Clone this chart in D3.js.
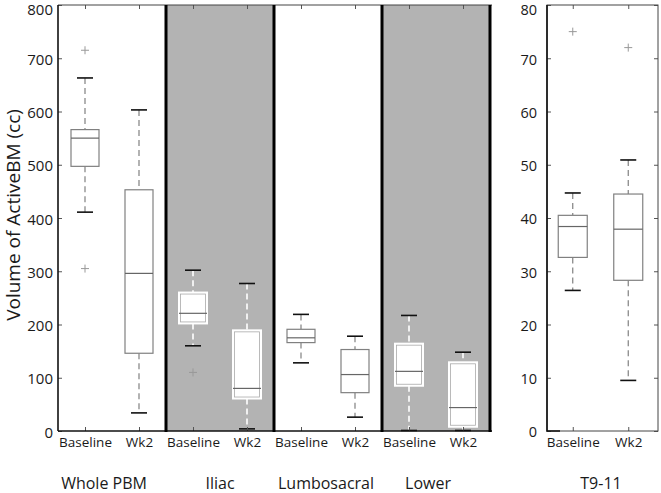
<!DOCTYPE html>
<html>
<head>
    <script src="https://d3js.org/d3.v7.min.js"></script>
    <style>
        body { margin: 0; background: #fff; }
        text { font-family: "Open Sans", "Noto Sans", sans-serif; fill: #1a1a1a; }
        .tick line { stroke: #555; }
        .domain { display: none; }
    </style>
</head>
<body>
<script>
// regions and time points
const groups = ["Whole PBM", "Iliac", "Lumbosacral", "Lower"];
const timepoints = ["Baseline", "Wk2"];
const yTicks = [0, 100, 200, 300, 400, 500, 600, 700, 800];

// box stats for the 8 boxes, in order WPBM base, WPBM wk2, Iliac base, ...
const whiskLo = [411, 34, 160, 4, 128, 26, 1, 1];
const q1 =      [497, 146, 202, 61, 166, 72, 85, 8];
const median =  [550, 296, 221, 80, 175, 106, 112, 44];
const q3 =      [566, 453, 260, 189, 191, 153, 164, 129];
const whiskHi = [663, 603, 302, 277, 219, 178, 217, 148];
const outliers = [[715, 305], [], [110], [], [], [], [], []];

// T9-11 panel
const t9Group = "T9-11";
const t9Ticks = [0, 10, 20, 30, 40, 50, 60, 70, 80];
const t9WhiskLo = [26.4, 9.5];
const t9Q1 = [32.6, 28.3];
const t9Median = [38.4, 37.9];
const t9Q3 = [40.5, 44.5];
const t9WhiskHi = [44.7, 50.9];
const t9Outliers = [[75], [72]];

const svg = d3.select("body").append("svg")
    .attr("width", 661)
    .attr("height", 493);

const yTop = 5, yBottom = 431;
const x = d3.scaleLinear().domain([0.5, 8.5]).range([58, 490]);
const y = d3.scaleLinear().domain([0, 800]).range([yBottom, yTop]);
const x2 = d3.scaleLinear().domain([0.5, 2.5]).range([545, 656]);
const y2 = d3.scaleLinear().domain([0, 80]).range([yBottom, yTop]);

// shaded panels
groups.forEach(function(g, i) {
    if (i % 2 == 1) {
        svg.append("rect")
            .attr("x", x(2 * i + 0.5)).attr("y", yTop)
            .attr("width", x(2 * i + 2.5) - x(2 * i + 0.5))
            .attr("height", yBottom - yTop)
            .attr("fill", "#b3b3b3");
    }
});

function drawBox(xs, ys, pos, lo, a, m, b, hi, outs, shaded, bw) {
    const cx = xs(pos);
    const wcol = shaded ? "#fff" : "#808080";
    svg.append("line")
        .attr("x1", cx).attr("x2", cx).attr("y1", ys(hi)).attr("y2", ys(b))
        .attr("stroke", wcol).attr("stroke-width", shaded ? 1.6 : 1.2)
        .attr("stroke-dasharray", "6,4");
    svg.append("line")
        .attr("x1", cx).attr("x2", cx).attr("y1", ys(a)).attr("y2", ys(lo))
        .attr("stroke", wcol).attr("stroke-width", shaded ? 1.6 : 1.2)
        .attr("stroke-dasharray", "6,4");
    [lo, hi].forEach(function(v) {
        svg.append("line")
            .attr("x1", cx - 8).attr("x2", cx + 8).attr("y1", ys(v)).attr("y2", ys(v))
            .attr("stroke", "#111").attr("stroke-width", 1.6);
    });
    svg.append("rect")
        .attr("x", cx - bw / 2).attr("y", ys(b))
        .attr("width", bw).attr("height", ys(a) - ys(b))
        .attr("fill", "#fff")
        .attr("stroke", shaded ? "#fff" : "#808080")
        .attr("stroke-width", shaded ? 2 : 1.2);
    if (shaded) {
        svg.append("rect")
            .attr("x", cx - bw / 2 + 1.5).attr("y", ys(b) + 1.5)
            .attr("width", bw - 3).attr("height", ys(a) - ys(b) - 3)
            .attr("fill", "none").attr("stroke", "#aaa").attr("stroke-width", 0.8);
    }
    svg.append("line")
        .attr("x1", cx - bw / 2).attr("x2", cx + bw / 2).attr("y1", ys(m)).attr("y2", ys(m))
        .attr("stroke", "#666").attr("stroke-width", 1.2);
    outs.forEach(function(v) {
        svg.append("path")
            .attr("d", `M${cx - 4},${ys(v)}H${cx + 4}M${cx},${ys(v) - 4}V${ys(v) + 4}`)
            .attr("stroke", "#999").attr("stroke-width", 1);
    });
}

for (let i = 0; i < 8; i++) {
    const shaded = Math.floor(i / 2) % 2 == 1;
    drawBox(x, y, i + 1, whiskLo[i], q1[i], median[i], q3[i], whiskHi[i], outliers[i], shaded, 28);
}
for (let i = 0; i < 2; i++) {
    drawBox(x2, y2, i + 1, t9WhiskLo[i], t9Q1[i], t9Median[i], t9Q3[i], t9WhiskHi[i], t9Outliers[i], false, 29);
}

// top label sits a little lower so it is not clipped
function labelDy(d, i, nodes) { return i == nodes.length - 1 ? "0.62em" : "0.4em"; }

// axes, left chart
svg.append("g")
    .attr("transform", `translate(58,0)`)
    .call(d3.axisLeft(y).tickValues(yTicks).tickSize(-4).tickPadding(5))
    .selectAll("text").style("font-size", "15px").attr("dy", labelDy);

const tickLabels = d3.range(1, 9).map(function(i) { return timepoints[(i - 1) % 2]; });
svg.append("g")
    .attr("transform", `translate(0,${yBottom})`)
    .call(d3.axisBottom(x).tickValues(d3.range(1, 9)).tickSize(-4).tickPadding(6)
        .tickFormat(function(d) { return tickLabels[d - 1]; }))
    .selectAll("text").style("font-size", "13.5px");
svg.append("g")
    .attr("transform", `translate(0,${yTop})`)
    .call(d3.axisTop(x).tickValues(d3.range(1, 9)).tickSize(-4).tickFormat(""));

// frame, left chart
svg.append("line").attr("x1", 58).attr("x2", 492).attr("y1", yTop).attr("y2", yTop)
    .attr("stroke", "#444").attr("stroke-width", 1);
svg.append("line").attr("x1", 58).attr("x2", 492).attr("y1", yBottom).attr("y2", yBottom)
    .attr("stroke", "#111").attr("stroke-width", 1.6);
svg.append("line").attr("x1", 58).attr("x2", 58).attr("y1", yTop).attr("y2", yBottom)
    .attr("stroke", "#111").attr("stroke-width", 1.6);
[2.5, 4.5, 6.5, 8.5].forEach(function(v) {
    svg.append("line").attr("x1", x(v)).attr("x2", x(v)).attr("y1", yTop).attr("y2", yBottom + 1)
        .attr("stroke", "#000").attr("stroke-width", 3);
});

// group labels (not quite centred under their panels in the original)
const labelShift = [-8, 0, -2, -8];
groups.forEach(function(g, i) {
    svg.append("text")
        .attr("x", x(2 * i + 1.5) + labelShift[i]).attr("y", 489)
        .attr("text-anchor", "middle")
        .style("font-size", "16px")
        .text(g);
});

svg.append("text")
    .attr("transform", "translate(20,215) rotate(-90)")
    .attr("text-anchor", "middle")
    .style("font-size", "19px")
    .text("Volume of ActiveBM (cc)");

// axes, right chart
svg.append("g")
    .attr("transform", `translate(547,0)`)
    .call(d3.axisLeft(y2).tickValues(t9Ticks).tickSize(-4).tickPadding(10))
    .selectAll("text").style("font-size", "14.5px").attr("dy", labelDy);
svg.append("g")
    .attr("transform", `translate(658,0)`)
    .call(d3.axisRight(y2).tickValues(t9Ticks).tickSize(-4).tickFormat(""));
svg.append("g")
    .attr("transform", `translate(0,${yBottom})`)
    .call(d3.axisBottom(x2).tickValues([1, 2]).tickSize(-4).tickPadding(6)
        .tickFormat(function(d) { return timepoints[d - 1]; }))
    .selectAll("text").style("font-size", "13.5px");
svg.append("g")
    .attr("transform", `translate(0,${yTop})`)
    .call(d3.axisTop(x2).tickValues([1, 2]).tickSize(-4).tickFormat(""));

svg.append("rect")
    .attr("x", 547).attr("y", yTop).attr("width", 111).attr("height", yBottom - yTop)
    .attr("fill", "none").attr("stroke", "#444").attr("stroke-width", 1);
svg.append("path")
    .attr("d", `M547,${yTop}V${yBottom}H560`)
    .attr("fill", "none").attr("stroke", "#111").attr("stroke-width", 1.6);

svg.append("text")
    .attr("x", 601).attr("y", 489)
    .attr("text-anchor", "middle")
    .style("font-size", "16px")
    .text(t9Group);
</script>
</body>
</html>
